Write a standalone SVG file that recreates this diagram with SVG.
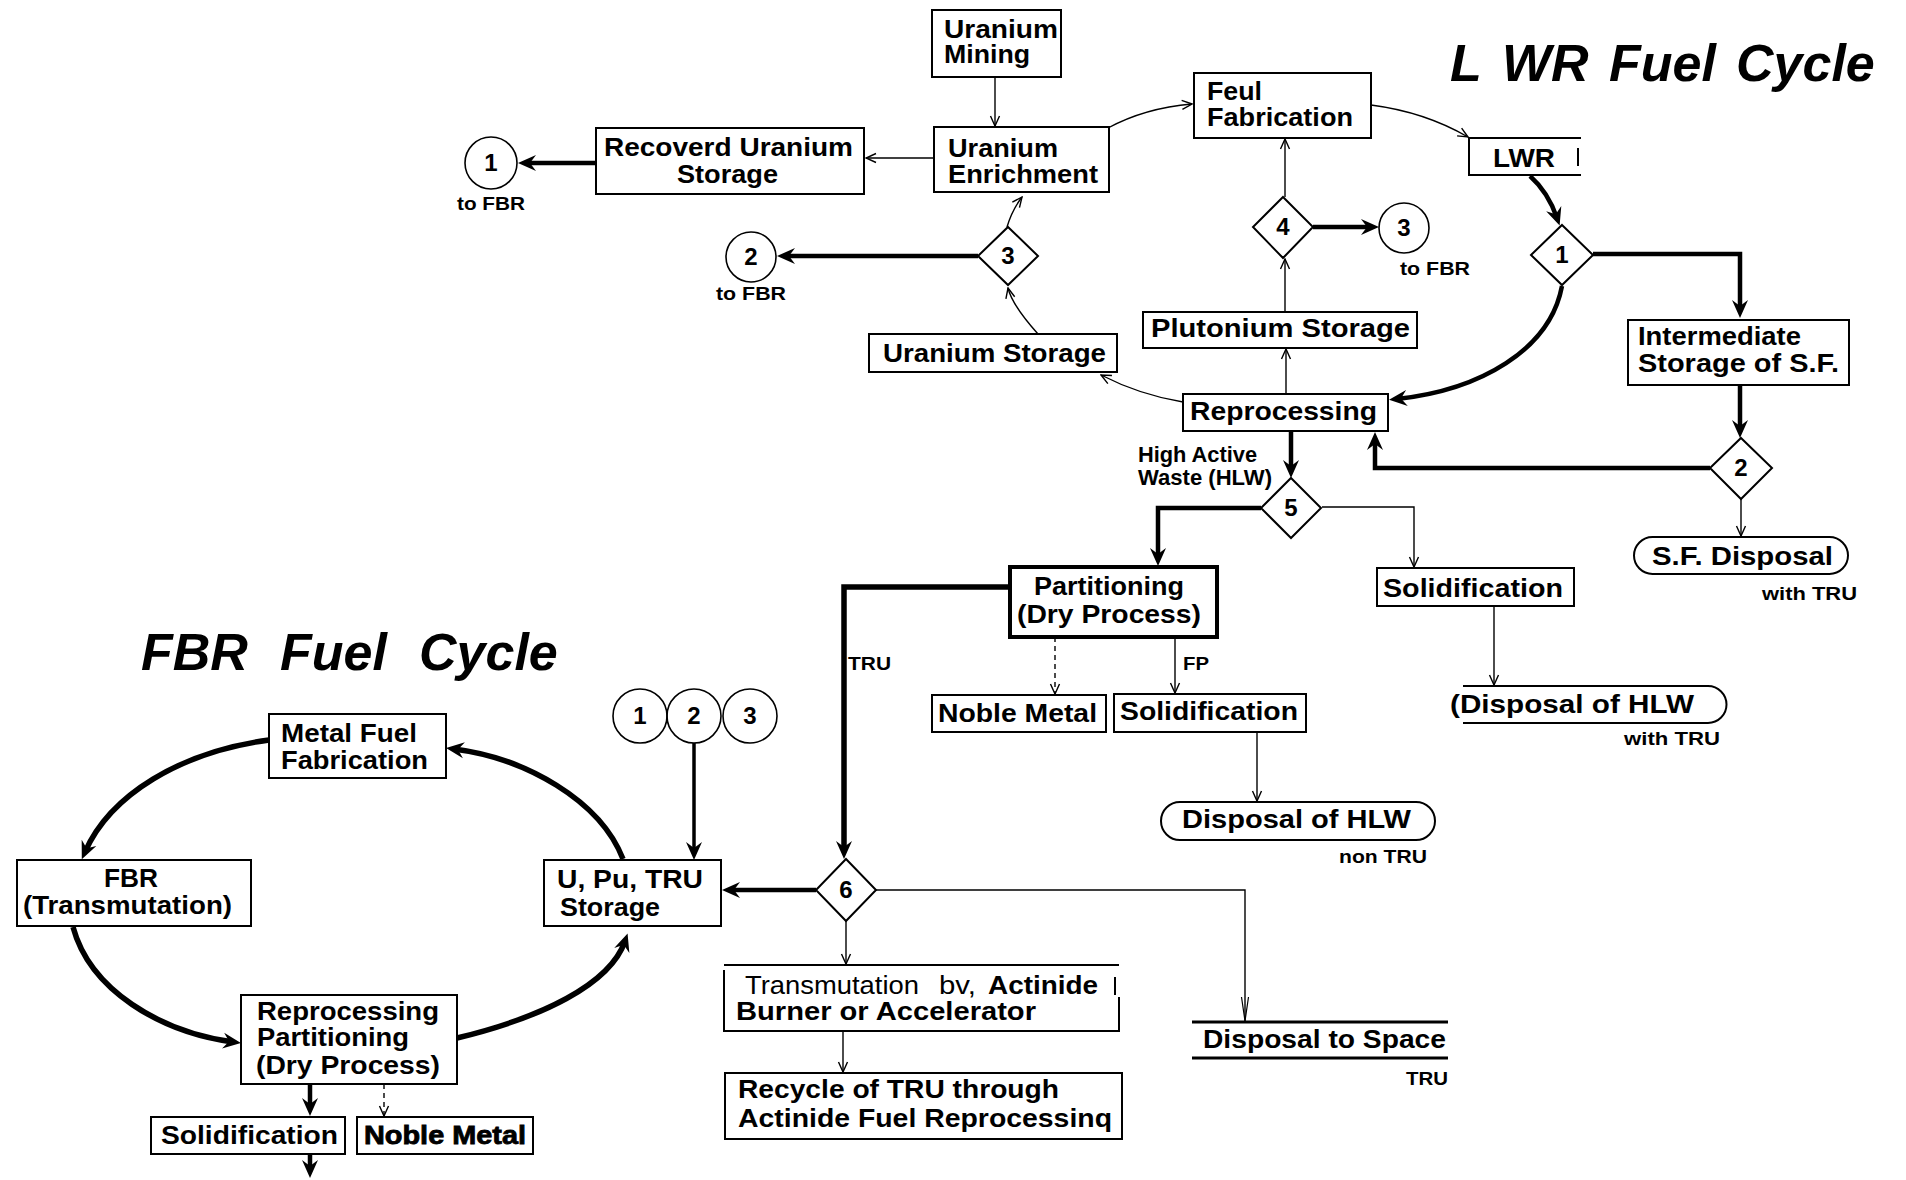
<svg xmlns="http://www.w3.org/2000/svg" width="1906" height="1180" viewBox="0 0 1906 1180">
<style>
.t{font-family:"Liberation Sans",Arial,Helvetica,sans-serif;font-weight:bold;fill:#000}
.n{font-weight:normal}
.s25{font-size:25px}
.s22{font-size:22px}
.s19{font-size:19px}
.ttl{font-size:52px;font-style:italic}
.d{text-anchor:middle;font-size:24px}
.box{fill:#fff;stroke:#000;stroke-width:2}
.open{fill:none;stroke:#000;stroke-width:2}
.thin{fill:none;stroke:#000;stroke-width:1.4;marker-end:url(#av)}
.dash{stroke-dasharray:5 4}
.thick{fill:none;stroke:#000;stroke-width:4.5;marker-end:url(#ah)}
.cyc{fill:none;stroke:#000;stroke-width:5.5;marker-end:url(#ah)}
</style>
<defs>
<marker id="ah" viewBox="-11 -10 21 20" refX="0" refY="0" markerWidth="21" markerHeight="20" markerUnits="userSpaceOnUse" orient="auto">
<path d="M8,0 L-10,-8 L-4,0 L-10,8 z" fill="#000"/>
</marker>
<marker id="av" viewBox="-12 -6 13 12" refX="0" refY="0" markerWidth="13" markerHeight="12" markerUnits="userSpaceOnUse" orient="auto">
<path d="M-10,-4.5 L0,0 L-10,4.5" fill="none" stroke="#000" stroke-width="1.4"/>
</marker>
<marker id="avl" viewBox="-26 -6 27 12" refX="0" refY="0" markerWidth="27" markerHeight="12" markerUnits="userSpaceOnUse" orient="auto">
<path d="M-24,-3.5 L0,0 L-24,3.5" fill="none" stroke="#000" stroke-width="1.2"/>
</marker>
</defs>
<rect width="1906" height="1180" fill="#fff"/>

<g id="connectors">
<path class="thin" d="M995,77 L995,126"/>
<path class="thin" d="M934,158 L866,158"/>
<path class="thin" d="M1108,128 Q1145,108 1192,104"/>
<path class="thin" d="M1371,105 Q1425,112 1468,137"/>
<path class="thin" d="M1007,227 Q1012,210 1022,197"/>
<path class="thin" d="M1038,334 Q1012,305 1008,288"/>
<path class="thin" d="M1183,402 Q1140,395 1101,375"/>
<path class="thin" d="M1286,394 L1286,349"/>
<path class="thin" d="M1285,312 L1285,259"/>
<path class="thin" d="M1285,197 L1285,139"/>
<path class="thin" d="M1322,507 L1414,507 L1414,567"/>
<path class="thin" d="M1494,606 L1494,685"/>
<path class="thin" d="M1741,499 L1741,536"/>
<path class="thin dash" d="M1055,637 L1055,694"/>
<path class="thin" d="M1175,637 L1175,693"/>
<path class="thin" d="M1257,732 L1257,801"/>
<path class="thin" d="M846,921 L846,964"/>
<path class="thin" style="marker-end:url(#avl)" d="M876,890 L1245,890 L1245,1021"/>
<path class="thin" d="M843,1031 L843,1072"/>
<path class="thin dash" d="M384,1084 L384,1116"/>

<path class="thick" d="M596,163 L526,163"/>
<path class="thick" d="M978,256 L785,256"/>
<path class="thick" d="M1313,227 L1371,227"/>
<path class="thick" d="M1530,176 Q1548,192 1557,218"/>
<path class="thick" d="M1593,254 L1740,254 L1740,310"/>
<path class="thick" d="M1562,286 C1550,350 1480,390 1397,399"/>
<path class="thick" d="M1740,385 L1740,430"/>
<path class="thick" d="M1710,468 L1375,468 L1375,440"/>
<path class="thick" d="M1291,431 L1291,470"/>
<path class="thick" d="M1261,508 L1158,508 L1158,558"/>
<path class="thick" style="stroke-width:5.5" d="M1009,587 L844,587 L844,851"/>
<path class="thick" d="M816,890 L730,890"/>
<path class="thick" style="stroke-width:3.5" d="M694,743 L694,852"/>
<path class="cyc" d="M269,740 C180,752 110,795 85,852"/>
<path class="cyc" d="M73,927 C90,990 160,1032 233,1042"/>
<path class="cyc" d="M457,1038 C540,1018 610,985 625,941"/>
<path class="cyc" d="M623,859 C600,800 525,758 454,749"/>
<path class="thick" d="M310,1084 L310,1108"/>
<path class="thick" d="M310,1154 L310,1170"/>
</g>

<g id="title-lwr">
<text class="t ttl" x="1450" y="81">L</text>
<text class="t ttl" x="1502" y="81">WR</text>
<text class="t ttl" x="1609" y="81">Fuel</text>
<text class="t ttl" x="1736" y="81">Cycle</text>
</g>
<g id="title-fbr">
<text class="t ttl" x="141" y="670">FBR</text>
<text class="t ttl" x="280" y="670">Fuel</text>
<text class="t ttl" x="419" y="670">Cycle</text>
</g>

<g id="uranium-mining">
<rect class="box" x="932" y="10" width="129" height="67"/>
<text class="t s25" x="944" y="38" textLength="114" lengthAdjust="spacingAndGlyphs">Uranium</text>
<text class="t s25" x="944" y="63" textLength="86" lengthAdjust="spacingAndGlyphs">Mining</text>
</g>
<g id="uranium-enrichment">
<rect class="box" x="934" y="127" width="175" height="65"/>
<text class="t s25" x="948" y="157" textLength="110" lengthAdjust="spacingAndGlyphs">Uranium</text>
<text class="t s25" x="948" y="183" textLength="150" lengthAdjust="spacingAndGlyphs">Enrichment</text>
</g>
<g id="recovered-uranium-storage">
<rect class="box" x="596" y="128" width="268" height="66"/>
<text class="t s25" x="604" y="156" textLength="249" lengthAdjust="spacingAndGlyphs">Recoverd  Uranium</text>
<text class="t s25" x="677" y="183" textLength="101" lengthAdjust="spacingAndGlyphs">Storage</text>
</g>
<g id="circle-1-top">
<circle cx="491" cy="163" r="26" fill="#fff" stroke="#000" stroke-width="1.6"/>
<text class="t d" x="491" y="171">1</text>
<text class="t s19" x="457" y="210" textLength="68" lengthAdjust="spacingAndGlyphs">to FBR</text>
</g>
<g id="circle-2-top">
<circle cx="751" cy="257" r="25" fill="#fff" stroke="#000" stroke-width="1.6"/>
<text class="t d" x="751" y="265">2</text>
<text class="t s19" x="716" y="300" textLength="70" lengthAdjust="spacingAndGlyphs">to FBR</text>
</g>
<g id="circle-3-top">
<circle cx="1404" cy="228" r="25" fill="#fff" stroke="#000" stroke-width="1.6"/>
<text class="t d" x="1404" y="236">3</text>
<text class="t s19" x="1400" y="275" textLength="70" lengthAdjust="spacingAndGlyphs">to FBR</text>
</g>
<g id="diamond-3">
<polygon class="box" points="1008,227 1038,256 1008,285 978,256"/>
<text class="t d" x="1008" y="264">3</text>
</g>
<g id="feul-fabrication">
<rect class="box" x="1194" y="73" width="177" height="65"/>
<text class="t s25" x="1207" y="100" textLength="55" lengthAdjust="spacingAndGlyphs">Feul</text>
<text class="t s25" x="1207" y="126" textLength="146" lengthAdjust="spacingAndGlyphs">Fabrication</text>
</g>
<g id="lwr">
<path class="open" d="M1581,138 L1469,138 L1469,175 L1581,175 M1578,148 L1578,166"/>
<text class="t s25" x="1493" y="167" textLength="62" lengthAdjust="spacingAndGlyphs">LWR</text>
</g>
<g id="diamond-4">
<polygon class="box" points="1283,197 1313,227 1283,258 1253,227"/>
<text class="t d" x="1283" y="235">4</text>
</g>
<g id="diamond-1">
<polygon class="box" points="1562,225 1593,255 1562,285 1531,255"/>
<text class="t d" x="1562" y="263">1</text>
</g>
<g id="uranium-storage">
<rect class="box" x="869" y="334" width="248" height="38"/>
<text class="t s25" x="883" y="362" textLength="223" lengthAdjust="spacingAndGlyphs">Uranium  Storage</text>
</g>
<g id="plutonium-storage">
<rect class="box" x="1143" y="312" width="274" height="36"/>
<text class="t s25" x="1151" y="337" textLength="259" lengthAdjust="spacingAndGlyphs">Plutonium Storage</text>
</g>
<g id="reprocessing">
<rect class="box" x="1183" y="394" width="205" height="37"/>
<text class="t s25" x="1190" y="420" textLength="187" lengthAdjust="spacingAndGlyphs">Reprocessing</text>
</g>
<g id="hlw-label">
<text class="t s22" x="1138" y="462" textLength="119" lengthAdjust="spacingAndGlyphs">High  Active</text>
<text class="t s22" x="1138" y="485" textLength="134" lengthAdjust="spacingAndGlyphs">Waste  (HLW)</text>
</g>
<g id="intermediate-storage">
<rect class="box" x="1628" y="320" width="221" height="65"/>
<text class="t s25" x="1638" y="345" textLength="163" lengthAdjust="spacingAndGlyphs">Intermediate</text>
<text class="t s25" x="1638" y="372" textLength="201" lengthAdjust="spacingAndGlyphs">Storage of S.F.</text>
</g>
<g id="diamond-2">
<polygon class="box" points="1741,438 1772,468 1741,499 1710,468"/>
<text class="t d" x="1741" y="476">2</text>
</g>
<g id="sf-disposal">
<rect class="box" x="1634" y="537" width="214" height="37" rx="18.5"/>
<text class="t s25" x="1652" y="565" textLength="181" lengthAdjust="spacingAndGlyphs">S.F. Disposal</text>
<text class="t s19" x="1762" y="600" textLength="95" lengthAdjust="spacingAndGlyphs">with TRU</text>
</g>
<g id="diamond-5">
<polygon class="box" points="1291,478 1321,508 1291,538 1261,508"/>
<text class="t d" x="1291" y="516">5</text>
</g>
<g id="solidification-right">
<rect class="box" x="1377" y="568" width="197" height="38"/>
<text class="t s25" x="1383" y="597" textLength="180" lengthAdjust="spacingAndGlyphs">Solidification</text>
</g>
<g id="disposal-hlw-with-tru">
<path class="open" d="M1463,686 L1708,686 A18.5,18.5 0 0 1 1708,723 L1463,723"/>
<text class="t s25" x="1450" y="713" textLength="244" lengthAdjust="spacingAndGlyphs">(Disposal  of  HLW</text>
<text class="t s19" x="1624" y="745" textLength="96" lengthAdjust="spacingAndGlyphs">with  TRU</text>
</g>
<g id="partitioning">
<rect class="box" style="stroke-width:4" x="1010" y="567" width="207" height="70"/>
<text class="t s25" x="1034" y="595" textLength="150" lengthAdjust="spacingAndGlyphs">Partitioning</text>
<text class="t s25" x="1017" y="623" textLength="184" lengthAdjust="spacingAndGlyphs">(Dry  Process)</text>
</g>
<g id="labels-tru-fp">
<text class="t s19" x="848" y="670" textLength="43" lengthAdjust="spacingAndGlyphs">TRU</text>
<text class="t s19" x="1183" y="670" textLength="26" lengthAdjust="spacingAndGlyphs">FP</text>
</g>
<g id="noble-metal-mid">
<rect class="box" x="932" y="695" width="174" height="37"/>
<text class="t s25" x="938" y="722" textLength="159" lengthAdjust="spacingAndGlyphs">Noble Metal</text>
</g>
<g id="solidification-mid">
<rect class="box" x="1114" y="694" width="192" height="38"/>
<text class="t s25" x="1120" y="720" textLength="178" lengthAdjust="spacingAndGlyphs">Solidification</text>
</g>
<g id="disposal-hlw-non-tru">
<rect class="box" x="1161" y="802" width="274" height="38" rx="19"/>
<text class="t s25" x="1182" y="828" textLength="229" lengthAdjust="spacingAndGlyphs">Disposal of HLW</text>
<text class="t s19" x="1339" y="863" textLength="88" lengthAdjust="spacingAndGlyphs">non TRU</text>
</g>
<g id="circles-123">
<circle cx="640" cy="716" r="27" fill="#fff" stroke="#000" stroke-width="1.6"/>
<circle cx="694" cy="716" r="27" fill="none" stroke="#000" stroke-width="1.6"/>
<circle cx="750" cy="716" r="27" fill="none" stroke="#000" stroke-width="1.6"/>
<text class="t d" x="640" y="724">1</text>
<text class="t d" x="694" y="724">2</text>
<text class="t d" x="750" y="724">3</text>
</g>
<g id="metal-fuel-fabrication">
<rect class="box" x="269" y="714" width="177" height="64"/>
<text class="t s25" x="281" y="742" textLength="136" lengthAdjust="spacingAndGlyphs">Metal Fuel</text>
<text class="t s25" x="281" y="769" textLength="147" lengthAdjust="spacingAndGlyphs">Fabrication</text>
</g>
<g id="fbr">
<rect class="box" x="17" y="860" width="234" height="66"/>
<text class="t s25" x="104" y="887" textLength="54" lengthAdjust="spacingAndGlyphs">FBR</text>
<text class="t s25" x="23" y="914" textLength="209" lengthAdjust="spacingAndGlyphs">(Transmutation)</text>
</g>
<g id="u-pu-tru-storage">
<rect class="box" x="544" y="860" width="177" height="66"/>
<text class="t s25" x="557" y="888" textLength="146" lengthAdjust="spacingAndGlyphs">U, Pu, TRU</text>
<text class="t s25" x="560" y="916" textLength="100" lengthAdjust="spacingAndGlyphs">Storage</text>
</g>
<g id="diamond-6">
<polygon class="box" points="846,859 876,890 846,921 816,890"/>
<text class="t d" x="846" y="898">6</text>
</g>
<g id="fbr-reprocessing">
<rect class="box" x="241" y="995" width="216" height="89"/>
<text class="t s25" x="257" y="1020" textLength="182" lengthAdjust="spacingAndGlyphs">Reprocessing</text>
<text class="t s25" x="257" y="1046" textLength="152" lengthAdjust="spacingAndGlyphs">Partitioning</text>
<text class="t s25" x="256" y="1074" textLength="184" lengthAdjust="spacingAndGlyphs">(Dry  Process)</text>
</g>
<g id="solidification-bottom">
<rect class="box" x="151" y="1117" width="194" height="37"/>
<text class="t s25" x="161" y="1144" textLength="177" lengthAdjust="spacingAndGlyphs">Solidification</text>
</g>
<g id="noble-metal-bottom">
<rect class="box" x="357" y="1117" width="176" height="37"/>
<text class="t s25" style="stroke:#000;stroke-width:0.8" x="364" y="1144" textLength="162" lengthAdjust="spacingAndGlyphs">Noble Metal</text>
</g>
<g id="transmutation">
<path class="open" d="M724,965 L1119,965 M724,970 L724,1031 L1119,1031 L1119,997 M1115,977 L1115,995"/>
<text class="t s25 n" x="745" y="994" textLength="174" lengthAdjust="spacingAndGlyphs">Transmutation</text>
<text class="t s25 n" x="939" y="994" textLength="37" lengthAdjust="spacingAndGlyphs">bv,</text>
<text class="t s25" x="988" y="994" textLength="110" lengthAdjust="spacingAndGlyphs">Actinide</text>
<text class="t s25" x="736" y="1020" textLength="300" lengthAdjust="spacingAndGlyphs">Burner or Accelerator</text>
</g>
<g id="recycle">
<rect class="box" x="725" y="1073" width="397" height="66"/>
<text class="t s25" x="738" y="1098" textLength="321" lengthAdjust="spacingAndGlyphs">Recycle of TRU through</text>
<text class="t s25" x="738" y="1127" textLength="374" lengthAdjust="spacingAndGlyphs">Actinide Fuel Reprocessinq</text>
</g>
<g id="disposal-to-space">
<path d="M1192,1022 L1448,1022 M1192,1058 L1448,1058" stroke="#000" stroke-width="3" fill="none"/>
<text class="t s25" x="1203" y="1048" textLength="243" lengthAdjust="spacingAndGlyphs">Disposal to Space</text>
<text class="t s19" x="1406" y="1085" textLength="42" lengthAdjust="spacingAndGlyphs">TRU</text>
</g>
</svg>
